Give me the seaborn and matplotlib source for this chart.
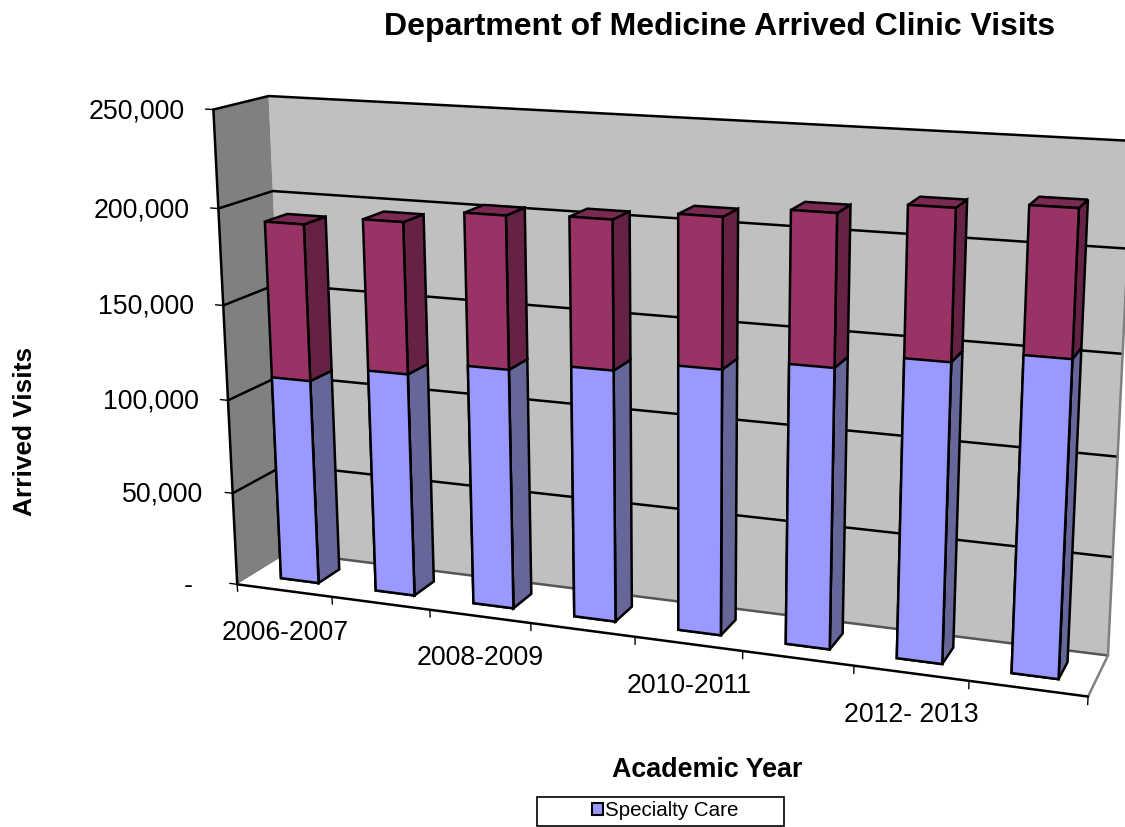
import numpy as np
import matplotlib
matplotlib.use("Agg")
import matplotlib.pyplot as plt
import seaborn as sns
from matplotlib.patches import Patch, Polygon, Rectangle
from matplotlib.transforms import Affine2D, Transform

years = ["2006-2007", "2007-2008", "2008-2009", "2009-2010",
         "2010-2011", "2011-2012", "2012- 2013", "2013-2014"]
specialty = [109700, 118200, 125500, 130000, 135400, 141100, 148700, 155000]
totals = [191500, 196300, 203200, 204800, 209700, 215100, 221000, 224400]
value_ticks = [0, 50000, 100000, 150000, 200000, 250000]
value_labels = ["-", "50,000", "100,000", "150,000", "200,000", "250,000"]

WIDTH, HEIGHT = 1125, 827
BLUE, PURPLE = "#9999FF", "#993366"
EDGE = 1.8

# camera fitted to the corners of the chart box: (category, value, depth) -> pixel
corners = [(-0.5, 0, 0, 238, 584), (-0.5, 250000, 0, 213, 110),
           (-0.5, 250000, 1, 269, 96), (-0.5, 0, 1, 288, 553),
           (7.5, 0, 0, 1088, 697), (7.5, 0, 1, 1108, 655),
           (7.5, 250000, 1, 1133, 141), (-0.5, 200000, 1, 273, 191),
           (-0.5, 200000, 0, 218, 208)]


def fit_camera():
    rows = []
    for x, y, z, u, v in corners:
        p = [x, y / 250000, z, 1]
        rows.append(p + [0, 0, 0, 0] + [-u * c for c in p])
        rows.append([0, 0, 0, 0] + p + [-v * c for c in p])
    return np.linalg.svd(np.array(rows))[2][-1].reshape(3, 4)


CAMERA = fit_camera()


def project(x, y, z):
    x, y, z = np.broadcast_arrays(x, y, z)
    p = np.stack([x, y / 250000, z, np.ones_like(x, dtype=float)], axis=-1) @ CAMERA.T
    return p[..., :2] / p[..., 2:]


class Depth(Transform):
    """Data (category, value) on a plane of fixed depth -> reference pixels."""
    input_dims = output_dims = 2

    def __init__(self, z):
        super().__init__()
        self.z = z

    def transform_non_affine(self, values):
        values = np.asarray(values, dtype=float)
        return project(values[:, 0], values[:, 1], self.z)


to_display = Affine2D().scale(1, -1).translate(0, HEIGHT)

sns.set_style("white")
plt.rcParams["font.family"] = ["Liberation Sans", "DejaVu Sans"]
plt.rcParams["text.color"] = "black"

fig = plt.figure(figsize=(WIDTH / 100, HEIGHT / 100), dpi=100)
ax = fig.add_axes([0, 0, 1, 1])

# stacked look: the total bar first, the lower segment over it
sns.barplot(x=years, y=totals, color=PURPLE, saturation=1, width=0.4,
            edgecolor="black", linewidth=EDGE, errorbar=None, ax=ax)
sns.barplot(x=years, y=specialty, color=BLUE, saturation=1, width=0.4,
            edgecolor="black", linewidth=EDGE, errorbar=None, ax=ax)
ax.set_axis_off()
front = Depth(0.3) + to_display
for bar in ax.patches:
    bar.set_transform(front)
    bar.set_zorder(4)
    bar.set_clip_on(False)


def face(points, color, edge="none", zorder=1):
    xy = project(*np.array(points, dtype=float).T)
    ax.add_patch(Polygon(xy, closed=True, facecolor=color, edgecolor=edge,
                         linewidth=EDGE, transform=to_display, zorder=zorder))


def line(p0, p1, color="black", lw=EDGE, zorder=2):
    xy = project(*np.array([p0, p1], dtype=float).T)
    ax.plot(xy[:, 0], xy[:, 1], color=color, lw=lw, transform=to_display,
            zorder=zorder, solid_capstyle="round")


# walls and floor
face([(-0.5, 0, 1), (7.5, 0, 1), (7.5, 250000, 1), (-0.5, 250000, 1)], "#C0C0C0")
face([(-0.5, 0, 0), (-0.5, 0, 1), (-0.5, 250000, 1), (-0.5, 250000, 0)], "#808080")
face([(-0.5, 0, 0), (7.5, 0, 0), (7.5, 0, 1), (-0.5, 0, 1)], "white")

for v in value_ticks:
    if v > 0:
        line((-0.5, v, 0), (-0.5, v, 1))
        line((-0.5, v, 1), (7.5, v, 1))
    line((-0.5, v, 0), (-0.58, v, 0), lw=1)
line((-0.5, 0, 1), (7.5, 0, 1), color="#555555")
line((7.5, 0, 0), (7.5, 0, 1), color="#808080")
line((7.5, 0, 1), (7.5, 250000, 1), color="#808080")
line((-0.5, 0, 0), (-0.5, 250000, 0))
line((-0.5, 0, 0), (7.5, 0, 0))
for i in range(len(years) + 1):
    line((i - 0.5, 0, 0), (i - 0.5, -4000, 0), lw=1)

# bar sides and tops
for i, (low, total) in enumerate(zip(specialty, totals)):
    right, left = i + 0.2, i - 0.2
    face([(right, 0, 0.3), (right, 0, 0.72), (right, low, 0.72), (right, low, 0.3)],
         "#666699", "black", 3)
    face([(right, low, 0.3), (right, low, 0.72), (right, total, 0.72), (right, total, 0.3)],
         "#662244", "black", 3)
    face([(left, total, 0.3), (right, total, 0.3), (right, total, 0.72), (left, total, 0.72)],
         "#7A2952", "black", 3)

# text
for v, label in zip(value_ticks, value_labels):
    x, y = project(-0.5, v, 0)
    pad = 44 if v == 0 else 29
    ax.text(x - pad, y + 1.5, label, transform=to_display, ha="right", va="center", fontsize=19.3)
for i in range(0, len(years), 2):
    x, y = project(i, 0, 0)
    ax.text(x + 0.5, y + 42, years[i], transform=to_display, ha="center", va="center", fontsize=19.2)

ax.text(720, 27, "Department of Medicine Arrived Clinic Visits", transform=to_display,
        ha="center", va="center", fontsize=23, fontweight="bold")
ax.text(707.5, 770, "Academic Year", transform=to_display, ha="center", va="center",
        fontsize=19.4, fontweight="bold")
ax.text(25, 431, "Arrived Visits", transform=to_display, ha="center", va="center",
        rotation=90, fontsize=18.9, fontweight="bold")

ax.add_patch(Rectangle((537, 797), 247, 29, facecolor="white", edgecolor="black", lw=1.2,
                       transform=to_display, zorder=5))
legend = ax.legend(handles=[Patch(facecolor=BLUE, edgecolor="black", linewidth=1.5, label="Specialty Care")],
                   loc="center", bbox_to_anchor=(665 / WIDTH, 1 - 811 / HEIGHT),
                   bbox_transform=fig.transFigure, frameon=False, fontsize=14.8,
                   handlelength=0.55, handleheight=0.55, handletextpad=0.1)
legend.set_zorder(6)

fig.savefig("out.png", dpi=100)
